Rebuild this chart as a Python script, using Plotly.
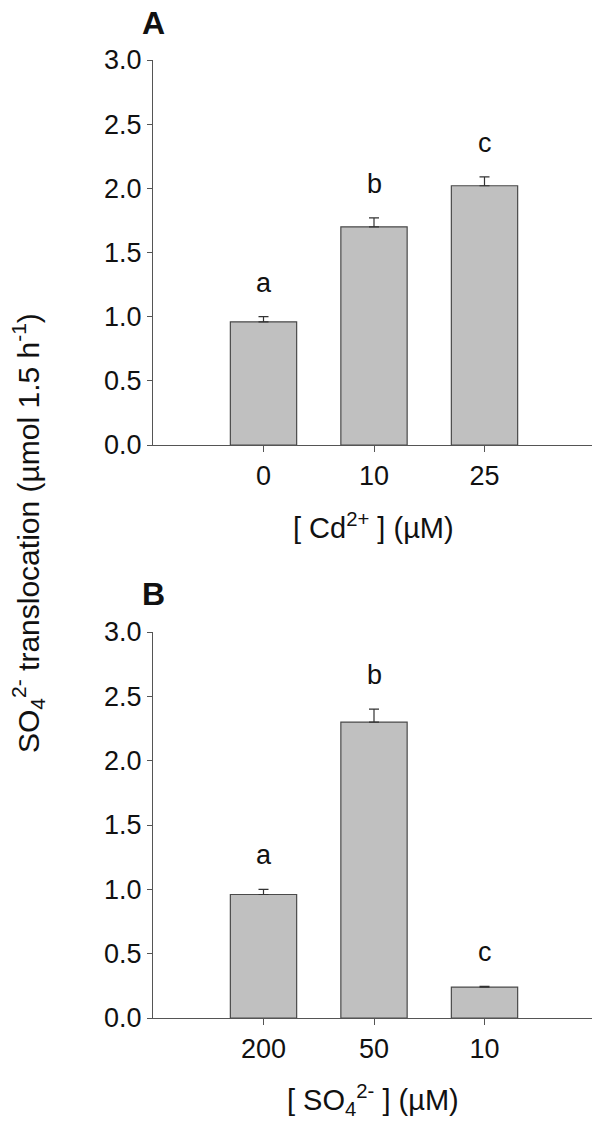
import plotly.graph_objects as go

# panel A: Cd2+ treatment
cd_labels = ["0", "10", "25"]
cd_values = [0.96, 1.70, 2.02]
cd_errors = [0.04, 0.07, 0.07]
cd_letters = ["a", "b", "c"]

# panel B: sulfate treatment
so4_labels = ["200", "50", "10"]
so4_values = [0.96, 2.30, 0.24]
so4_errors = [0.04, 0.10, 0.006]
so4_letters = ["a", "b", "c"]

FONT = "Arial, Liberation Sans, sans-serif"
# page has an 8px body margin, so the figure is 16px smaller than the window
OFF = 8
W, H = 600 - 2 * OFF, 1128 - 2 * OFF


def px_x(p):
    return min(1.0, max(0.0, (p - OFF) / W))


def px_y(p):
    return min(1.0, max(0.0, 1 - (p - OFF) / H))


fig = go.Figure()

for lab, val, err, xa, ya in [
    (cd_labels, cd_values, cd_errors, "x", "y"),
    (so4_labels, so4_values, so4_errors, "x2", "y2"),
]:
    fig.add_trace(go.Bar(
        x=list(range(len(lab))), y=val, xaxis=xa, yaxis=ya, width=0.6,
        marker=dict(color="#c0c0c0", line=dict(color="#4a4a4a", width=1.2)),
        error_y=dict(type="data", array=err, arrayminus=[0] * len(err), symmetric=False,
                     color="#333333", thickness=1.2, width=5),
        showlegend=False, hoverinfo="skip",
    ))

axis_common = dict(showline=True, linecolor="#555555", linewidth=1.2, ticks="outside",
                   tickcolor="#555555", tickwidth=1, showgrid=False, zeroline=False,
                   automargin=False, tickfont=dict(family=FONT, size=27, color="#111111"))

# axis runs from x=153 to the right edge; keep the category spacing of the reference
xdom = [px_x(153), px_x(592)]
xmax = -1 + 4 * (592 - 153) / 442
fig.update_layout(
    width=W, height=H, plot_bgcolor="white", paper_bgcolor="white",
    margin=dict(l=0, r=0, t=0, b=0),
    xaxis=dict(domain=xdom, anchor="y", range=[-1, xmax], tickvals=[0, 1, 2], ticktext=cd_labels,
               ticklen=6, **axis_common),
    yaxis=dict(domain=[px_y(445), px_y(60)], anchor="x", range=[0, 3.0], dtick=0.5,
               tickformat=".1f", ticklen=5, **axis_common),
    xaxis2=dict(domain=xdom, anchor="y2", range=[-1, xmax], tickvals=[0, 1, 2], ticktext=so4_labels,
                ticklen=6, **axis_common),
    yaxis2=dict(domain=[px_y(1018), px_y(632)], anchor="x2", range=[0, 3.0], dtick=0.5,
                tickformat=".1f", ticklen=5, **axis_common),
)

# significance letters
for val, err, letters, xr, yr in [
    (cd_values, cd_errors, cd_letters, "x", "y"),
    (so4_values, so4_errors, so4_letters, "x2", "y2"),
]:
    for i, (v, e, t) in enumerate(zip(val, err, letters)):
        fig.add_annotation(x=i, y=v + e, xref=xr, yref=yr, text=t, showarrow=False,
                           xanchor="center", yanchor="middle", yshift=34,
                           font=dict(family=FONT, size=27, color="#111111"))


def paper_text(x, y, text, size, bold=False, angle=0):
    fig.add_annotation(x=px_x(x), y=px_y(y), xref="paper", yref="paper",
                       text=f"<b>{text}</b>" if bold else text, textangle=angle,
                       showarrow=False, xanchor="center", yanchor="middle", borderpad=0,
                       font=dict(family=FONT, size=size, color="#111111"))


# panel letters
paper_text(153, 23, "A", 32, bold=True)
paper_text(153, 594, "B", 32, bold=True)

# axis titles
paper_text(373, 526, "[ Cd<sup>2+</sup> ] (µM)", 29)
paper_text(373, 1100, "[ SO<sub>4</sub><sup>2-</sup> ] (µM)", 29)
paper_text(28, 533, "SO<sub>4</sub><sup>2-</sup> translocation (µmol 1.5 h<sup>-1</sup>)", 30, angle=-90)

fig.write_html("out.html")
